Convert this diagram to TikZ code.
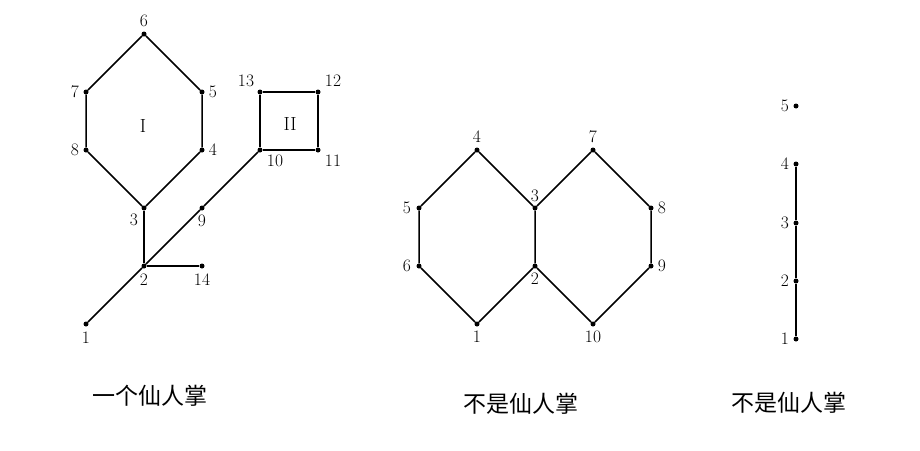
\documentclass[tikz,border=0pt]{standalone}
\usepackage{fontspec}
\newfontfamily\cjk{Noto Sans CJK SC}
\begin{document}
\begin{tikzpicture}[x=1pt,y=-1pt,
  dot/.style={circle,fill=black,inner sep=0pt,minimum size=5pt},
  lbl/.style={inner sep=0pt,font=\fontsize{17.5}{19}\selectfont},
  edge/.style={line width=1.5pt},
  thick edge/.style={line width=2.8pt},
  captext/.style={inner sep=0pt,font=\cjk\fontsize{23}{26}\selectfont}]
\useasboundingbox (0,0) rectangle (920,450);
% ---------- left graph ----------
\foreach \n/\x/\y in {1/86/324,2/144/266,3/144/208,4/202/150,5/202/92,6/144/34,7/86/92,8/86/150,9/202/208,10/260/150,11/318/150,12/318/92,13/260/92,14/202/266}
  \node[dot] (a\n) at (\x,\y) {};
\draw[edge] (a1) -- (a2) -- (a9) -- (a10);
\draw[edge] (a2) -- (a3);
\draw[thick edge] (a2) -- (a14);
\draw[edge] (a3) -- (a4) -- (a5) -- (a6) -- (a7) -- (a8) -- (a3);
\draw[edge] (a10) -- (a11) -- (a12) -- (a13) -- (a10);
\node[lbl] (la1) at (86,338) {1};
\node[lbl] (la2) at (144,280) {2};
\node[lbl] (la3) at (134,220) {3};
\node[lbl] (la4) at (213,150) {4};
\node[lbl] (la5) at (213,92) {5};
\node[lbl] (la6) at (144,21) {6};
\node[lbl] (la7) at (75,92) {7};
\node[lbl] (la8) at (75,150) {8};
\node[lbl] (la9) at (202,221) {9};
\node[lbl] (la10) at (275,161) {10};
\node[lbl] (la11) at (333,161) {11};
\node[lbl] (la12) at (333,81) {12};
\node[lbl] (la13) at (246,81) {13};
\node[lbl] (la14) at (202,280) {14};
\node[lbl,font=\fontsize{19}{21}\selectfont] (r1) at (143,126) {I};
\node[lbl,font=\fontsize{19}{21}\selectfont] (r2) at (290,124) {II};
% ---------- middle graph ----------
\foreach \n/\x/\y in {1/477/324,2/535/266,3/535/208,4/477/150,5/419/208,6/419/266,7/593/150,8/651/208,9/651/266,10/593/324}
  \node[dot] (b\n) at (\x,\y) {};
\draw[edge] (b1) -- (b6) -- (b5) -- (b4) -- (b3) -- (b2) -- (b1);
\draw[edge] (b3) -- (b7) -- (b8) -- (b9) -- (b10) -- (b2);
\node[lbl] (lb1) at (477,337) {1};
\node[lbl] (lb2) at (535,279) {2};
\node[lbl] (lb3) at (535,196) {3};
\node[lbl] (lb4) at (477,137) {4};
\node[lbl] (lb5) at (407,208) {5};
\node[lbl] (lb6) at (407,266) {6};
\node[lbl] (lb7) at (593,137) {7};
\node[lbl] (lb8) at (662,208) {8};
\node[lbl] (lb9) at (662,266) {9};
\node[lbl] (lb10) at (593,337) {10};
% ---------- right graph ----------
\foreach \n/\x/\y in {1/796/339,2/796/281,3/796/223,4/796/164,5/796/106}
  \node[dot] (c\n) at (\x,\y) {};
\draw[line width=2.4pt] (c1) -- (c2) -- (c3) -- (c4);
\foreach \n/\y in {1/339,2/281,3/223,4/164,5/106}
  \node[lbl] (lc\n) at (785,\y) {\n};
% ---------- captions ----------
\node[captext] (t1) at (150,396) {一个仙人掌};
\node[captext] (t2) at (521,404) {不是仙人掌};
\node[captext] (t3) at (789,403) {不是仙人掌};
\end{tikzpicture}
\end{document}
